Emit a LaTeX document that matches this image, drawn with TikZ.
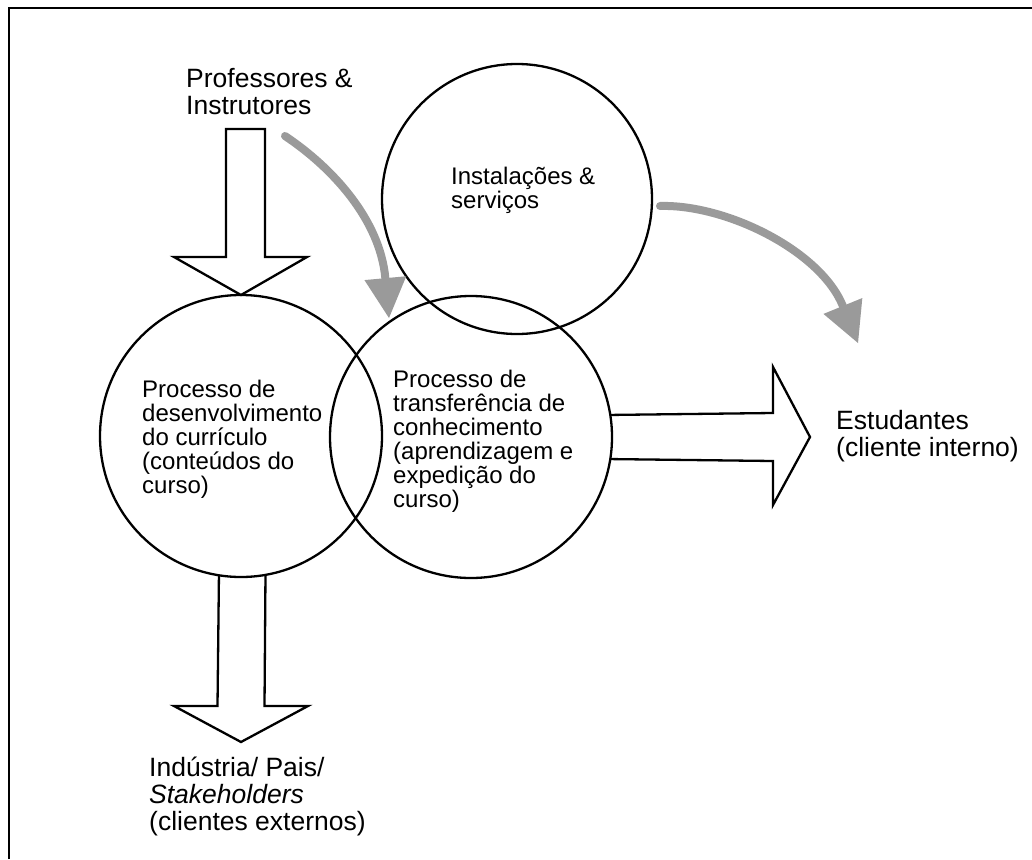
\documentclass[tikz,border=0pt]{standalone}
\usepackage{fontspec}
\setmainfont{Liberation Sans}
\usetikzlibrary{arrows.meta}
\definecolor{flowgray}{HTML}{9A9A9A}
\begin{document}
\begin{tikzpicture}[x=1pt,y=-1pt,
  ring/.style={draw, circle, line width=2.3pt, inner sep=0pt, outer sep=0pt, minimum size=#1},
  blockarrow/.style={draw, line width=2.3pt, line join=miter},
  flow/.style={draw=flowgray, line width=8pt, line cap=round,
    -{Triangle[length=40pt,width=42pt,line width=0pt]}},
  % multi-line labels are placed by the baseline of their last line
  intext/.style={anchor=base west, align=left, inner sep=0pt,
    font=\fontsize{24}{24}\selectfont},
  outtext/.style={anchor=base west, align=left, inner sep=0pt,
    font=\fontsize{26.5}{26.8}\selectfont}]
\useasboundingbox (0,0) rectangle (1032,859);

% frame: top and left edges
\draw[line width=2.8pt] (9,859) -- (9,8) -- (1032,8);

% the three process circles
\node[ring=282pt] (lc) at (241,436) {};
\node[ring=282pt] (mc) at (471,437) {};
\node[ring=270pt] (tc) at (517,199) {};

% labels
\node[outtext] (prof) at (186,114) {Professores \&\\Instrutores};
\node[intext] (tcl) at (451,208) {Instalações \&\\serviços};
\node[intext] (lcl) at (142,493) {Processo de\\desenvolvimento\\do currículo\\(conteúdos do\\curso)};
\node[intext] (mcl) at (393,507.5) {Processo de\\transferência de\\conhecimento\\(aprendizagem e\\expedição do\\curso)};
\node[outtext] (est) at (836,456.5) {Estudantes\\(cliente interno)};
\node[outtext] (ind) at (149,830) {Indústria/ Pais/\\\textit{Stakeholders}\\(clientes externos)};

% block arrows
\draw[blockarrow] (226,129) -- (265,129) -- (265,257) -- (307,257) -- (lc.north)
  -- (174,257) -- (226,257) -- cycle;
\coordinate (indtip) at (241,742);
\draw[blockarrow] (lc.-99.6) -- (217.5,706) -- (174,706) -- (indtip)
  -- (308,706) -- (264.5,706) -- (lc.-80.4);
\coordinate (esttip) at (810,437);
\draw[blockarrow] (mc.9.8) -- (773,413) -- (773,367) -- (esttip)
  -- (773,505) -- (773,461) -- (mc.-9.8);

% grey flow arrows
\coordinate (f1s) at (285,136);
\coordinate (f1e) at (389,318);
\draw[flow] (f1s) .. controls (333,168) and (380,220) .. (f1e);
\coordinate (f2s) at (660,206);
\coordinate (f2e) at (858,343);
\draw[flow] (f2s) .. controls (725,204) and (820,250) .. (f2e);
\end{tikzpicture}
\end{document}
